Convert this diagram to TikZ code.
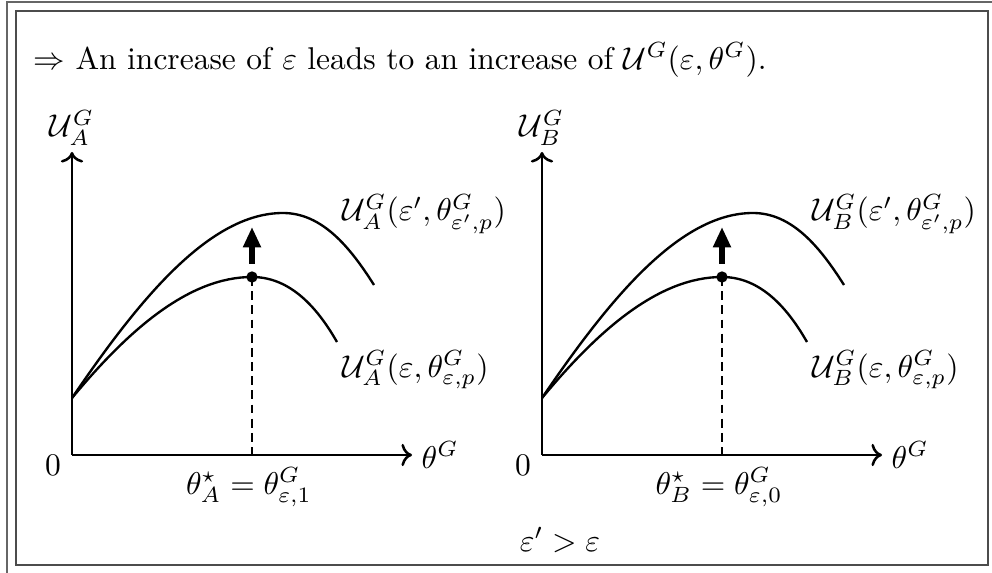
\documentclass[tikz,border=0pt]{standalone}
\usetikzlibrary{arrows.meta}
\begin{document}
\begin{tikzpicture}[x=0.3175pt,y=-0.3175pt,
  frameline/.style={line width=0.4pt,draw=black!70},
  axis/.style={line width=0.8pt,->},
  curve/.style={line width=0.75pt},
  guide/.style={line width=0.8pt,dash pattern=on 2.8pt off 1.7pt},
  bump/.style={line width=1.7pt,-{Triangle[width=5.4pt,length=6.5pt]}},
  lbl/.style={inner sep=0pt}]
\useasboundingbox (0,0) rectangle (992,573);
\draw[frameline,draw=black!60] (7,573) -- (7,2) -- (992,2);
\draw[frameline] (16,11) rectangle (988,565);
\node[lbl,anchor=west] (title) at (33,60) {$\Rightarrow$ An increase of $\varepsilon$ leads to an increase of $\mathcal{U}^G(\varepsilon,\theta^G)$.};
\foreach \dx/\s/\k in {0/A/1,470/B/0}{
  \begin{scope}[xshift=\dx*0.3175pt]
    \coordinate (o\s) at (72,455);
    \coordinate (yt\s) at (72,152);
    \coordinate (xt\s) at (412,455);
    \coordinate (st\s) at (72,398);
    \coordinate (pk\s) at (252,277);
    \coordinate (pu\s) at (283,213);
    \coordinate (lo\s) at (337,342);
    \coordinate (le\s) at (374,285);
    \coordinate (ft\s) at (252,455);
    \coordinate (ab\s) at (252,264);
    \coordinate (at\s) at (252,227);
    \draw[axis] (o\s) -- (yt\s);
    \draw[axis] (o\s) -- (xt\s);
    \draw[curve] (st\s) .. controls (130,328) and (190,277) .. (pk\s)
                   .. controls (290,277) and (317,307) .. (lo\s);
    \draw[curve] (st\s) .. controls (140,298) and (210,213) .. (pu\s)
                   .. controls (322,213) and (350,247) .. (le\s);
    \draw[guide] (pk\s) -- (ft\s);
    \fill (pk\s) circle (1.8pt);
    \draw[bump] (ab\s) -- (at\s);
    \node[lbl,anchor=south] (ylab\s) at (72,146) {$\mathcal{U}_\s^G$};
    \node[lbl] (zero\s) at (53,465) {$0$};
    \node[lbl,anchor=west] (xlab\s) at (421,455) {$\theta^G$};
    \node[lbl] (opt\s) at (249,487) {$\theta^\star_\s=\theta^G_{\varepsilon,\k}$};
    \node[lbl,anchor=west] (up\s) at (342,214) {$\mathcal{U}_\s^G(\varepsilon',\theta^G_{\varepsilon',p})$};
    \node[lbl,anchor=west] (dn\s) at (342,370) {$\mathcal{U}_\s^G(\varepsilon,\theta^G_{\varepsilon,p})$};
  \end{scope}
}
\node[lbl] (cond) at (560,540) {$\varepsilon'>\varepsilon$};
\end{tikzpicture}
\end{document}
